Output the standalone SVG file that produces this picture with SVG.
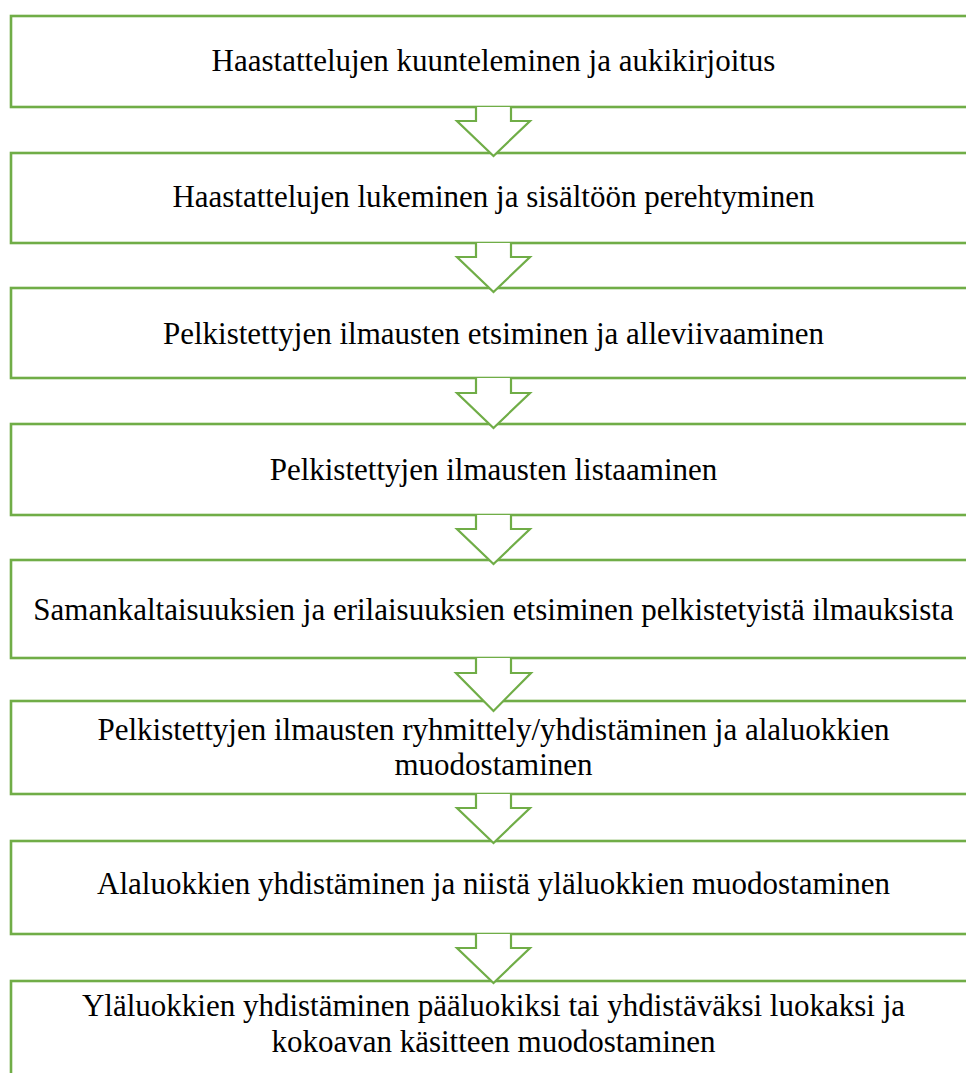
<svg xmlns="http://www.w3.org/2000/svg" width="966" height="1073" viewBox="0 0 966 1073">
<style>
.box{fill:#fff;stroke:#70AD47;stroke-width:2.6}
.arr{fill:#fff;stroke:#70AD47;stroke-width:2.2;stroke-linejoin:miter}
.t{font-family:"Liberation Serif","DejaVu Serif",serif;font-size:31px;fill:#000;text-anchor:middle}
</style>
<rect width="966" height="1073" fill="#fff"/>
<g id="n1"><rect class="box" x="11" y="16" width="965" height="91"/><text class="t" x="493.5" y="71">Haastattelujen kuunteleminen ja aukikirjoitus</text></g>
<g id="n2"><rect class="box" x="11" y="153" width="965" height="90"/><text class="t" x="493.5" y="207">Haastattelujen lukeminen ja sisältöön perehtyminen</text></g>
<g id="n3"><rect class="box" x="11" y="288" width="965" height="90"/><text class="t" x="493.5" y="344">Pelkistettyjen ilmausten etsiminen ja alleviivaaminen</text></g>
<g id="n4"><rect class="box" x="11" y="424" width="965" height="91"/><text class="t" x="493.5" y="480">Pelkistettyjen ilmausten listaaminen</text></g>
<g id="n5"><rect class="box" x="11" y="560" width="965" height="98"/><text class="t" x="493.5" y="620">Samankaltaisuuksien ja erilaisuuksien etsiminen pelkistetyistä ilmauksista</text></g>
<g id="n6"><rect class="box" x="11" y="701" width="965" height="93"/><text class="t" x="493.5" y="740">Pelkistettyjen ilmausten ryhmittely/yhdistäminen ja alaluokkien</text><text class="t" x="493.5" y="775">muodostaminen</text></g>
<g id="n7"><rect class="box" x="11" y="841" width="965" height="93"/><text class="t" x="493.5" y="894">Alaluokkien yhdistäminen ja niistä yläluokkien muodostaminen</text></g>
<g id="n8"><rect class="box" x="11" y="981" width="965" height="110"/><text class="t" x="493.5" y="1016">Yläluokkien yhdistäminen pääluokiksi tai yhdistäväksi luokaksi ja</text><text class="t" x="493.5" y="1052">kokoavan käsitteen muodostaminen</text></g>
<g id="connectors">
<path class="arr" d="M476,107 V121 H457 L493.5,156 L530,121 H511 V107"/>
<path class="arr" d="M476,243 V257 H457 L493.5,292 L530,257 H511 V243"/>
<path class="arr" d="M476,378 V393 H457 L493.5,428 L530,393 H511 V378"/>
<path class="arr" d="M476,515 V529 H457 L493.5,564 L530,529 H511 V515"/>
<path class="arr" d="M476,658 V673 H456 L493.5,711 L531,673 H511 V658"/>
<path class="arr" d="M476,794 V808 H457 L493.5,843 L530,808 H511 V794"/>
<path class="arr" d="M476,934 V948 H457 L493.5,983 L530,948 H511 V934"/>
</g>
</svg>
